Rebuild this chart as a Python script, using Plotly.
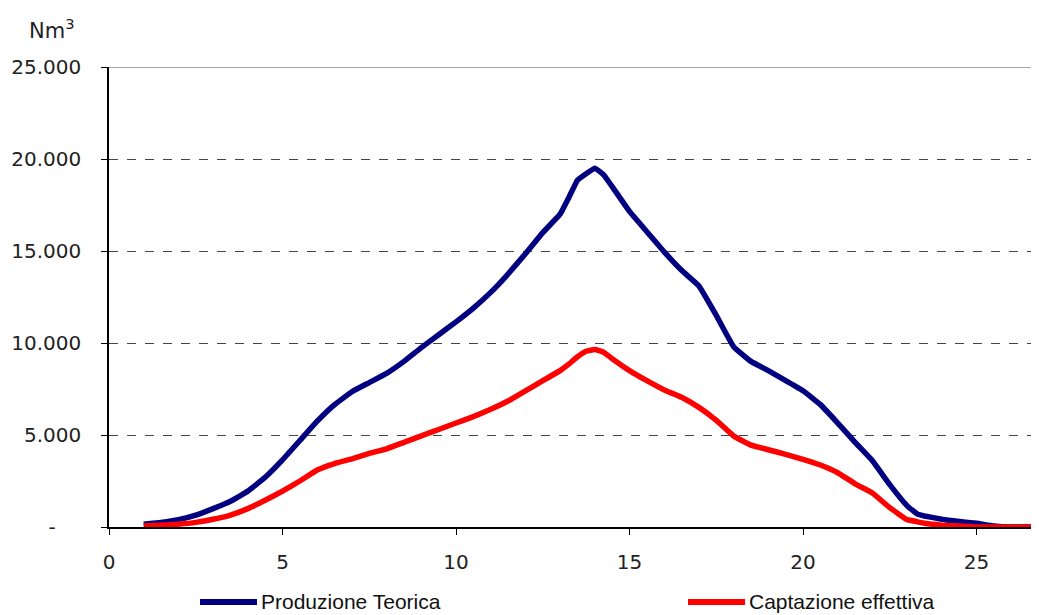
import plotly.graph_objects as go

x_vals = [1, 1.5, 2, 2.5, 3, 3.5, 4, 4.5, 5, 5.5, 6, 6.5, 7, 7.5, 8, 8.5, 9, 9.5, 10,
          10.5, 11, 11.5, 12, 12.5, 13, 13.25, 13.5, 13.75, 14, 14.25, 14.5, 15, 15.5,
          16, 16.5, 17, 17.5, 18, 18.5, 19, 19.5, 20, 20.5, 21, 21.5, 22, 22.5, 23,
          23.3, 23.5, 24, 24.5, 25, 25.5, 26, 26.5, 27]

produzione = [150, 250, 400, 650, 1000, 1400, 1950, 2700, 3650, 4700, 5750, 6650, 7350,
              7850, 8350, 9000, 9750, 10450, 11150, 11900, 12750, 13750, 14850, 16000,
              17000, 17900, 18850, 19200, 19500, 19150, 18500, 17150, 16050, 14950,
              13950, 13100, 11500, 9800, 9000, 8500, 7950, 7400, 6650, 5650, 4600,
              3600, 2300, 1150, 700, 600, 420, 300, 200, 60, 0, 0, 0]

captazione = [50, 90, 150, 250, 420, 650, 1000, 1450, 1950, 2500, 3100, 3450, 3700,
              4000, 4250, 4600, 4950, 5300, 5650, 6000, 6400, 6850, 7400, 7950, 8500,
              8850, 9250, 9550, 9650, 9500, 9150, 8500, 7950, 7450, 7050, 6500, 5800,
              4950, 4450, 4200, 3950, 3680, 3370, 2950, 2350, 1850, 1050, 400, 280,
              200, 100, 50, 0, 0, 0, 0, 0]

y_ticks = [0, 5000, 10000, 15000, 20000, 25000]
y_ticktext = ["-" + "\u00a0" * 4, "5.000", "10.000", "15.000", "20.000", "25.000"]
x_ticks = [0, 5, 10, 15, 20, 25]

series_names = ["Produzione Teorica", "Captazione effettiva"]
series_colors = ["#000080", "#FF0000"]

# page body has an 8px margin: figure is offset by (8, 8) in the window
W, H = 1031, 607
L, R, T, B = 101, 0, 59, 88
PW = W - L - R

fig = go.Figure()
for name, ys, col in zip(series_names, [produzione, captazione], series_colors):
    fig.add_trace(go.Scatter(x=x_vals, y=ys, mode="lines", name=name,
                             line=dict(color=col, width=5.5, shape="spline", smoothing=0.3),
                             showlegend=False))

# top border line at 25000
fig.add_shape(type="line", xref="paper", yref="y", x0=0, x1=1, y0=25000, y1=25000,
              line=dict(color="#888888", width=1.5))

font_ticks = dict(family="DejaVu Sans", size=20, color="#222222")

fig.update_layout(
    width=W, height=H,
    margin=dict(l=L, r=R, t=T, b=B),
    paper_bgcolor="white", plot_bgcolor="white",
    xaxis=dict(range=[0, 26.8], tickvals=x_ticks, ticks="outside", ticklen=6,
               tickcolor="black", showline=True, linecolor="black", linewidth=1.5,
               showgrid=False, zeroline=False, tickfont=font_ticks,
               ticklabelstandoff=10),
    yaxis=dict(range=[0, 25000], tickvals=y_ticks, ticktext=y_ticktext,
               ticks="outside", ticklen=6, tickcolor="black", showline=True,
               linecolor="black", linewidth=1.5, showgrid=True, gridcolor="#444444",
               griddash="dash", gridwidth=1, zeroline=False, tickfont=font_ticks,
               ticklabelstandoff=16),
    showlegend=False,
)

# Nm3 label
fig.add_annotation(text="Nm<sup>3</sup>", xref="paper", yref="paper",
                   x=(52 - 109) / PW, y=1.0, yshift=38, xanchor="center", yanchor="middle",
                   showarrow=False, font=dict(family="DejaVu Sans", size=21, color="#222222"))

# manual legend
leg_x0 = [200, 688]
for name, col, lx in zip(series_names, series_colors, leg_x0):
    fx0 = (lx - 109) / PW
    fx1 = (lx + 57 - 109) / PW
    fig.add_shape(type="line", xref="paper", yref="paper", x0=fx0, x1=fx1,
                  y0=-0.163, y1=-0.163, line=dict(color=col, width=6))
    fig.add_annotation(text=name, xref="paper", yref="paper", x=fx1, y=-0.163,
                       xanchor="left", yanchor="middle", xshift=2, showarrow=False,
                       font=dict(family="Liberation Sans", size=21, color="#111111"))

fig.write_html("out.html")
